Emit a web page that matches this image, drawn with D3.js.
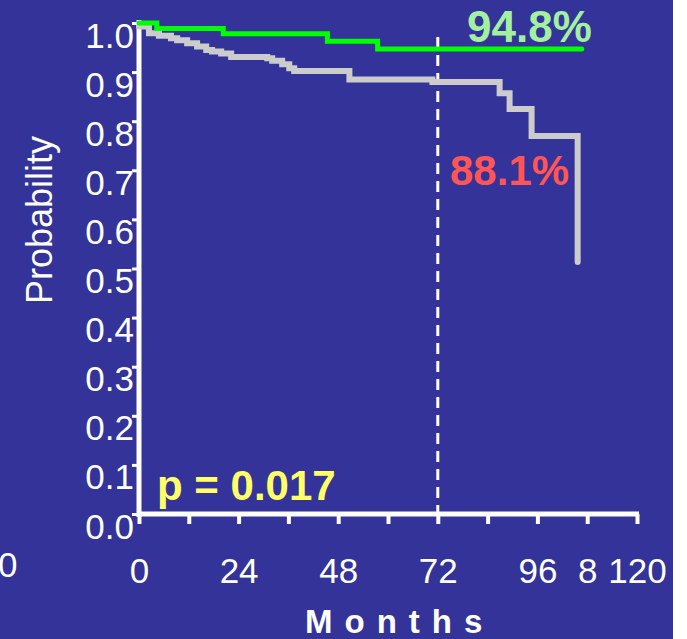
<!DOCTYPE html>
<html>
<head>
<meta charset="utf-8">
<script src="https://cdn.jsdelivr.net/npm/d3@7"></script>
<style>
  body { margin: 0; background: #ffffff; }
  text { font-family: "Liberation Sans", Arial, sans-serif; }
</style>
</head>
<body>
<div id="chart"></div>
<script>
// survival data (months, probability)
const greyMonths = [0, 2.4, 4.8, 7.7, 9.2, 11.6, 14.0, 16.2, 17.6, 19.8, 22.2, 30.9, 32.1, 34.5, 36.2, 37.4, 50.7, 70.7, 86.9, 89.3, 94.6, 105.7];
const greyProb   = [0.993, 0.979, 0.974, 0.969, 0.965, 0.959, 0.952, 0.945, 0.942, 0.938, 0.931, 0.928, 0.923, 0.916, 0.908, 0.902, 0.885, 0.880, 0.857, 0.825, 0.770, 0.513];
const greenMonths = [0, 4.3, 20.3, 45.4, 57.5, 106.7];
const greenProb   = [1.0, 0.989, 0.978, 0.963, 0.947, 0.947];

const yTicks = [0, 0.1, 0.2, 0.3, 0.4, 0.5, 0.6, 0.7, 0.8, 0.9, 1.0];
const xTicks = [0, 12, 24, 36, 48, 60, 72, 84, 96, 108, 120];
const xLabelValues = [0, 24, 48, 72, 96, 108, 120];
const xLabelText = ["0", "24", "48", "72", "96", "8", "120"];
const markMonth = 72;

// set the dimensions and margins of the graph
const margin = {top: 23, right: 50, bottom: 125, left: 139},
  width = 637 - margin.left,
  height = 514 - margin.top;

const svg = d3.select("#chart")
  .append("svg")
  .attr("width", 687)
  .attr("height", 639);

// blue panel, white strip on the right
svg.append("rect")
  .attr("width", 673)
  .attr("height", 639)
  .attr("fill", "#333399");

const g = svg.append("g")
  .attr("transform", `translate(${margin.left},${margin.top})`);

const x = d3.scaleLinear().domain([0, 120]).range([0, width]);
const y = d3.scaleLinear().domain([0, 1]).range([height, 0]);

// Y axis
const yAxis = g.append("g")
  .call(d3.axisLeft(y).tickValues(yTicks).tickFormat(d3.format(".1f")).tickSize(7).tickSizeOuter(0));
yAxis.select(".domain").remove();
yAxis.selectAll(".tick line").attr("stroke", "white").attr("stroke-width", 3);
yAxis.selectAll(".tick text")
  .attr("x", -5)
  .attr("dy", 0)
  .attr("y", 24)
  .style("font-size", "35px")
  .attr("fill", "white");

// X axis
const xAxis = g.append("g")
  .attr("transform", `translate(0,${height})`)
  .call(d3.axisBottom(x).tickValues(xTicks).tickSize(10).tickSizeOuter(0)
    .tickFormat(d => {
      const i = xLabelValues.indexOf(d);
      return i < 0 ? "" : xLabelText[i];
    }));
xAxis.select(".domain").remove();
xAxis.selectAll(".tick line").attr("stroke", "white").attr("stroke-width", 4);
xAxis.selectAll(".tick text")
  .attr("y", 69)
  .attr("dy", 0)
  .style("font-size", "35px")
  .attr("fill", "white");

// axis lines
g.append("line")
  .attr("x1", 0).attr("x2", 0)
  .attr("y1", -3).attr("y2", height + 3)
  .attr("stroke", "white").attr("stroke-width", 5);
g.append("line")
  .attr("x1", -2).attr("x2", width + 2)
  .attr("y1", height).attr("y2", height)
  .attr("stroke", "white").attr("stroke-width", 5);

// dashed 72 month marker
g.append("line")
  .attr("x1", x(markMonth)).attr("x2", x(markMonth))
  .attr("y1", 14).attr("y2", height - 2)
  .attr("stroke", "white")
  .attr("stroke-width", 3)
  .attr("stroke-dasharray", "11,7");

const line = d3.line()
  .x(d => x(d[0]))
  .y(d => y(d[1]))
  .curve(d3.curveStepAfter);

g.append("path")
  .datum(d3.zip(greyMonths, greyProb))
  .attr("d", line)
  .attr("fill", "none")
  .attr("stroke", "#cccccc")
  .attr("stroke-width", 6)
  .attr("stroke-linecap", "round");

g.append("path")
  .datum(d3.zip(greenMonths, greenProb))
  .attr("d", line)
  .attr("fill", "none")
  .attr("stroke", "#00ff00")
  .attr("stroke-width", 5)
  .attr("stroke-linecap", "round");

// annotations
svg.append("text")
  .attr("x", 467).attr("y", 42)
  .style("font-size", "44px").style("font-weight", "bold")
  .attr("fill", "#a3f0a0")
  .text("94.8%");

svg.append("text")
  .attr("x", 450).attr("y", 185)
  .style("font-size", "42px").style("font-weight", "bold")
  .attr("fill", "#ff5555")
  .text("88.1%");

svg.append("text")
  .attr("x", 157).attr("y", 500)
  .style("font-size", "42px").style("font-weight", "bold")
  .attr("fill", "#ffff66")
  .text("p = 0.017");

// axis titles
svg.append("text")
  .attr("transform", "translate(52,220) rotate(-90)")
  .style("text-anchor", "middle")
  .style("font-size", "36px")
  .attr("fill", "white")
  .text("Probability");

svg.append("text")
  .attr("x", 305).attr("y", 633)
  .style("font-size", "33px").style("font-weight", "bold")
  .style("letter-spacing", "12px")
  .attr("fill", "white")
  .text("Months");

// stray label at the far left
svg.append("text")
  .attr("x", -2).attr("y", 577)
  .style("font-size", "35px")
  .attr("fill", "white")
  .text("0");
</script>
</body>
</html>
